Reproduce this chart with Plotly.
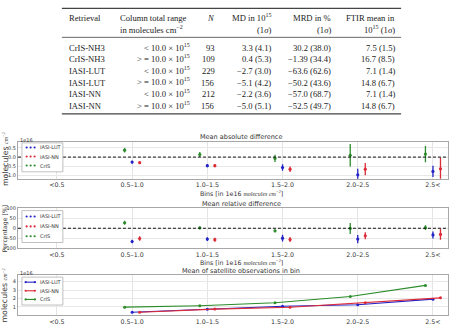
import plotly.graph_objects as go

W, H = 449, 325
SANS = "DejaVu Sans"
SERIF = "Liberation Serif"

# ---------------- table data ----------------
tbl_retrieval = ["CrIS-NH3", "CrIS-NH3", "IASI-LUT", "IASI-LUT", "IASI-NN", "IASI-NN"]
tbl_range = ["< 10.0 × 10<sup>15</sup>", "> = 10.0 × 10<sup>15</sup>",
             "< 10.0 × 10<sup>15</sup>", "> = 10.0 × 10<sup>15</sup>",
             "< 10.0 × 10<sup>15</sup>", "> = 10.0 × 10<sup>15</sup>"]
tbl_n = ["93", "109", "229", "156", "212", "156"]
tbl_md = ["3.3 (4.1)", "0.4 (5.3)", "−2.7 (3.0)", "−5.1 (4.2)", "−2.2 (3.6)", "−5.0 (5.1)"]
tbl_mrd = ["30.2 (38.0)", "−1.39 (34.4)", "−63.6 (62.6)", "−50.2 (43.6)", "−57.0 (68.7)", "−52.5 (49.7)"]
tbl_ftir = ["7.5 (1.5)", "16.7 (8.5)", "7.1 (1.4)", "14.8 (6.7)", "7.1 (1.4)", "14.8 (6.7)"]

# ---------------- chart data ----------------
bins = ["<0.5", "0.5–1.0", "1.0–1.5", "1.5–2.0", "2.0–2.5", "2.5<"]
series_names = ["IASI-LUT", "IASI-NN", "CrIS"]

# Mean absolute difference [1e16 molecules cm-2]
mad_lut = [None, -0.27, -0.46, -0.56, -0.95, -0.77]
mad_lut_err = [None, 0.07, 0.08, 0.17, 0.33, 0.30]
mad_nn = [None, -0.30, -0.46, -0.65, -0.65, -0.63]
mad_nn_err = [None, 0.07, 0.08, 0.15, 0.33, 0.60]
mad_cris = [None, 0.37, 0.14, -0.07, 0.10, 0.16]
mad_cris_err = [None, 0.12, 0.14, 0.20, 0.60, 0.44]

# Mean relative difference [%]
mrd_lut = [None, -67, -55, -50, -55, -34]
mrd_lut_err = [None, 9, 9, 17, 21, 18]
mrd_nn = [None, -52, -58, -57, -38, -31]
mrd_nn_err = [None, 11, 10, 13, 18, 27]
mrd_cris = [None, 28, 2, -13, -1, 3]
mrd_cris_err = [None, 10, 7, 7, 28, 12]

# Mean of satellite observations in bin [1e16 molecules cm-2]
sat_lut = [None, 0.38, 0.73, 1.08, 1.27, 1.93]
sat_nn = [None, 0.38, 0.75, 0.96, 1.50, 2.08]
sat_cris = [None, 0.98, 1.15, 1.50, 2.24, 3.56]

ref_level = 0

# ---------------- styles ----------------
COLORS = {"IASI-LUT": "#2323c8", "IASI-NN": "#dc2a36", "CrIS": "#2a8c2a"}
OFFSETS = {"IASI-LUT": 0.0, "IASI-NN": 0.1, "CrIS": -0.1}


def px(x):
    return x / W


def py(y):
    return 1 - y / H


annotations = []
shapes = []


def ann(text, x, y, size, xanchor="left", family=SANS, color="#222", angle=0, yanchor="middle"):
    annotations.append(dict(text=text, x=px(x), y=py(y), xref="paper", yref="paper",
                            xanchor=xanchor, yanchor=yanchor, showarrow=False,
                            textangle=angle, borderpad=0,
                            font=dict(size=size, family=family, color=color)))


def hline(x0, x1, y, width=1, color="#444"):
    shapes.append(dict(type="line", xref="paper", yref="paper", x0=px(x0), x1=px(x1),
                       y0=py(y), y1=py(y), line=dict(color=color, width=width)))


# ---------------- table ----------------
TF = 8.6
hline(62, 402, 5.5, 1.1)
hline(62, 402, 35, 0.8)
hline(62, 402, 113, 1.1)
ann("Retrieval", 68, 15, TF, family=SERIF)
ann("Column total range", 119, 15, TF, family=SERIF)
ann("in molecules cm<sup>−2</sup>", 119, 26.5, TF, family=SERIF)
ann("<i>N</i>", 216, 15, TF, xanchor="right", family=SERIF)
ann("MD in 10<sup>15</sup>", 273, 14.5, TF, xanchor="right", family=SERIF)
ann("(1<i>σ</i>)", 273, 27.5, TF, xanchor="right", family=SERIF)
ann("MRD in %", 333, 15, TF, xanchor="right", family=SERIF)
ann("(1<i>σ</i>)", 333, 27.5, TF, xanchor="right", family=SERIF)
ann("FTIR mean in", 397, 15, TF, xanchor="right", family=SERIF)
ann("10<sup>15</sup> (1<i>σ</i>)", 397, 26.5, TF, xanchor="right", family=SERIF)
row_y = [45.0, 56.8, 68.6, 80.4, 92.2, 104.0]
for i, yy in enumerate(row_y):
    ann(tbl_retrieval[i], 68, yy + 0.7, TF, family=SERIF)
    ann(tbl_range[i], 191, yy, TF, xanchor="right", family=SERIF)
    ann(tbl_n[i], 216, yy + 0.7, TF, xanchor="right", family=SERIF)
    ann(tbl_md[i], 273, yy + 0.7, TF, xanchor="right", family=SERIF)
    ann(tbl_mrd[i], 333, yy + 0.7, TF, xanchor="right", family=SERIF)
    ann(tbl_ftir[i], 397, yy + 0.7, TF, xanchor="right", family=SERIF)

# ---------------- panels ----------------
panels = [
    dict(top=142, bottom=179, rng=[-1.16, 0.79], tv=[-1, -0.5, 0, 0.5],
         tt=["−1.0", "−0.5", "0.0", "0.5"]),
    dict(top=209, bottom=250, rng=[-102, 102], tv=[-100, -50, 0, 50, 100],
         tt=["−100", "−50", "0", "50", "100"]),
    dict(top=277.3, bottom=318.3, rng=[0, 4.77], tv=[1, 2, 3, 4],
         tt=["1", "2", "3", "4"]),
]

fig = go.Figure()
layout_axes = {}
for k, p in enumerate(panels, start=1):
    xs = "xaxis" if k == 1 else f"xaxis{k}"
    ys = "yaxis" if k == 1 else f"yaxis{k}"
    xa = "x" if k == 1 else f"x{k}"
    ya = "y" if k == 1 else f"y{k}"
    layout_axes[xs] = dict(domain=[px(18), 1.0], range=[-0.518, 5.2], anchor=ya,
                           tickvals=list(range(len(bins))), ticktext=bins,
                           showgrid=True, gridcolor="#e4e4e4", gridwidth=1,
                           showline=True, mirror=True, linecolor="#a8a8a8", linewidth=1,
                           ticks="", zeroline=False,
                           tickfont=dict(size=6.3, family=SANS, color="#333"))
    layout_axes[ys] = dict(domain=[py(p["bottom"]), py(p["top"])], range=p["rng"], anchor=xa,
                           tickvals=p["tv"], ticktext=p["tt"],
                           showgrid=True, gridcolor="#e8e8e8", gridwidth=1,
                           showline=True, mirror=True, linecolor="#a8a8a8", linewidth=1,
                           ticks="", zeroline=False,
                           tickfont=dict(size=5, family=SANS, color="#333"))


def err_traces(vals, errs, xa, ya):
    for name, v, e in zip(series_names, vals, errs):
        fig.add_trace(go.Scatter(
            x=[i + OFFSETS[name] for i in range(len(bins))], y=v, mode="markers",
            xaxis=xa, yaxis=ya, name=name, showlegend=False,
            marker=dict(color=COLORS[name], size=3.2),
            error_y=dict(type="data", array=e, visible=True, color=COLORS[name],
                         thickness=1.3, width=0)))


err_traces([mad_lut, mad_nn, mad_cris], [mad_lut_err, mad_nn_err, mad_cris_err], "x", "y")
err_traces([mrd_lut, mrd_nn, mrd_cris], [mrd_lut_err, mrd_nn_err, mrd_cris_err], "x2", "y2")
for name, v in zip(series_names, [sat_lut, sat_nn, sat_cris]):
    fig.add_trace(go.Scatter(
        x=[i + OFFSETS[name] for i in range(len(bins))], y=v, mode="lines+markers",
        xaxis="x3", yaxis="y3", name=name, showlegend=False,
        line=dict(color=COLORS[name], width=1.1),
        marker=dict(color=COLORS[name], size=3)))

# zero reference lines
for ya in ["y", "y2"]:
    shapes.append(dict(type="line", xref="x domain" if ya == "y" else "x2 domain", yref=ya,
                       x0=0, x1=1, y0=ref_level, y1=ref_level, layer="above",
                       line=dict(color="#111", width=1, dash="3px,2px")))

# titles
ann("Mean absolute difference", 242, 137, 6.5, xanchor="center", color="#333")
ann("Mean relative difference", 242, 205, 6.5, xanchor="center", color="#333")
ann("Mean of satellite observations in bin", 242, 273.5, 6.5, xanchor="center", color="#333")

# x labels
xlab = ("Bins [in 1e16 <span style='font-family:Liberation Serif;font-style:italic;"
        "font-size:6px'>molecules cm<sup>−2</sup></span>]")
ann(xlab, 242, 194, 6.3, xanchor="center", color="#333")
ann(xlab, 242, 264, 6.3, xanchor="center", color="#333")

# y labels
ylab = ("molecules <span style='font-family:Liberation Serif;font-style:italic;"
        "font-size:6px'>cm<sup>−2</sup></span>")
ann(ylab, 5, 159, 7.8, xanchor="center", color="#333", angle=-90)
ann(ylab, 5, 298, 7.8, xanchor="center", color="#333", angle=-90)
ann("Percentage [%]", 5, 229.5, 6.2, xanchor="center", color="#333", angle=-90)

# exponent labels
ann("1e16", 19, 139.3, 5, color="#333")
ann("1e16", 19, 274.8, 5, color="#333")

# manual legends
legends = [
    dict(x0=22, x1=63, y0=142.5, y1=172, rows=[147.2, 156.4, 165.6], kind="err"),
    dict(x0=22, x1=63, y0=211.5, y1=244, rows=[217.5, 227.6, 237.6], kind="err"),
    dict(x0=22, x1=63, y0=279.3, y1=307.7, rows=[284.4, 293.2, 302.0], kind="line"),
]
for lg in legends:
    shapes.append(dict(type="rect", xref="paper", yref="paper", x0=px(lg["x0"]), x1=px(lg["x1"]),
                       y0=py(lg["y1"]), y1=py(lg["y0"]), fillcolor="white", layer="above",
                       line=dict(color="#b0b0b0", width=0.8)))
    for name, ry in zip(series_names, lg["rows"]):
        c = COLORS[name]
        if lg["kind"] == "err":
            dots = [26.7, 30.7, 34.7]
        else:
            dots = [25.7, 35.0]
            shapes.append(dict(type="line", xref="paper", yref="paper", x0=px(25.7), x1=px(35.0),
                               y0=py(ry), y1=py(ry), layer="above", line=dict(color=c, width=1.1)))
        for dx in dots:
            shapes.append(dict(type="circle", xref="paper", yref="paper",
                               x0=px(dx - 1.1), x1=px(dx + 1.1), y0=py(ry + 1.1), y1=py(ry - 1.1),
                               fillcolor=c, layer="above", line=dict(color=c, width=0)))
        ann(name, 39.5, ry, 5, color="#333")

fig.update_layout(
    width=W, height=H, margin=dict(l=0, r=0, t=0, b=0),
    paper_bgcolor="white", plot_bgcolor="white", showlegend=False,
    annotations=annotations, shapes=shapes, **layout_axes)

fig.write_html("out.html")
